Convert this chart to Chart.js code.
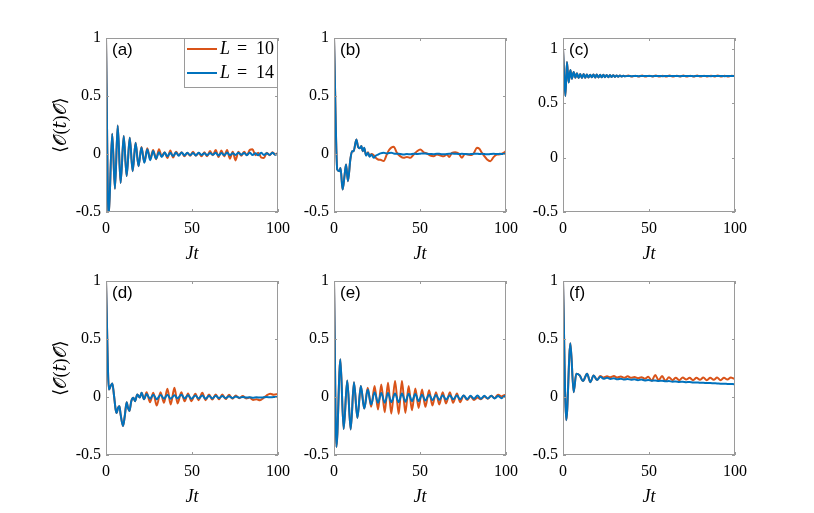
<!DOCTYPE html>
<html>
<head>
<meta charset="utf-8">
<script src="https://cdn.jsdelivr.net/npm/chart.js@4.4.0/dist/chart.umd.min.js"></script>
<style>
  body { margin: 0; background: #fff; }
  #wrap { position: relative; width: 814px; height: 513px; overflow: hidden; }
  #wrap canvas { position: absolute; }
</style>
</head>
<body>
<div id="wrap"></div>
<script>
'use strict';

// ---- data ----
const seriesLabels = ['L = 10', 'L = 14'];
const xTicks = [0, 50, 100];
const yTicks = [-0.5, 0, 0.5, 1];

// (a)
const tA = [0, 1.5, 3.6, 5.2, 6.8, 8.5, 10.3, 12.0, 13.8, 15.5, 17.2, 18.9, 20.6, 22.3, 24.0,
  25.7, 27.4, 29.1, 30.8, 32.4, 34.1, 35.7, 37.4, 39.0, 40.7, 42.3, 44.0, 45.6, 47.3, 48.9,
  50.6, 52.2, 53.9, 55.5, 57.2, 58.8, 60.5, 62.1, 63.8, 65.4, 67.1, 68.7, 70.4, 72.0, 73.7,
  75.3, 77.0, 78.6, 80.3, 81.9, 83.6, 85.2, 86.9, 88.5, 90.2, 91.8, 93.5, 95.1, 96.8, 98.4, 100];
const a14 = [1.0, -0.56, 0.175, -0.30, 0.245, -0.25, 0.155, -0.19, 0.14, -0.148,
  0.096, -0.105, 0.055, -0.076, 0.04, -0.053, 0.025, -0.04, 0.015, -0.025,
  0.012, -0.02, 0.01, -0.018, 0.012, -0.015, 0.014, -0.012, 0.01, -0.01,
  0.008, -0.012, 0.01, -0.008, 0.006, -0.01, 0.008, -0.006, 0.01, -0.012,
  0.008, -0.01, 0.012, -0.01, 0.006, -0.008, 0.01, -0.006, 0.008, -0.01,
  0.012, -0.008, 0.006, -0.01, 0.01, -0.008, 0.006, -0.008, 0.01, -0.006, 0.004];
const a10 = [1.0, -0.56, 0.175, -0.30, 0.245, -0.25, 0.155, -0.19, 0.14, -0.148,
  0.096, -0.105, 0.06, -0.07, 0.05, -0.04, 0.035, -0.045, 0.04, -0.02,
  0.015, -0.035, 0.03, -0.03, 0.02, -0.01, 0.015, -0.02, 0.01, -0.015,
  0.02, -0.015, 0.01, -0.02, 0.015, -0.02, 0.025, -0.01, 0.035, -0.025,
  0.03, -0.02, 0.035, -0.04, 0.02, -0.055, 0.02, -0.015, 0.02, -0.01,
  0.035, 0.04, -0.01, 0.01, -0.03, -0.035, 0.01, -0.01, 0.015, -0.005, 0.01];

// (b)
const tB = [0, 1.9, 3.1, 3.8, 5.0, 6.2, 7.0, 8.1, 9.5, 10.5,
  11.4, 13.0, 14.0, 15.0, 15.9, 16.7, 17.6, 18.6, 19.8, 20.7,
  21.7, 23.1, 24.4, 25.6, 27.0, 28.9, 30.8, 32.0, 33.3, 34.7,
  36.6, 38.6, 40.5, 42.4, 44.4, 46.3, 48.3, 50.2, 52.1, 54.0,
  56.0, 57.9, 59.8, 61.8, 63.7, 65.6, 67.0, 68.6, 70.5, 72.5,
  74.4, 76.0, 78.0, 80.0, 81.2, 83.1, 84.5, 86.0, 87.5, 89.0,
  90.9, 92.9, 94.8, 96.5, 98.0, 100];
const b14 = [1.0, -0.135, -0.148, -0.12, -0.306, -0.177, -0.09, -0.234, -0.047, 0.024,
  0.024, 0.125, 0.062, 0.05, 0.068, 0.024, 0.053, -0.013, 0.01, -0.024,
  -0.004, -0.033, -0.013, -0.005, 0.005, 0.01, 0.005, 0.008, 0.01, 0.005,
  0.002, 0.0, -0.005, 0.0, -0.003, 0.003, 0.0, 0.003, 0.005, 0.002,
  0.0, -0.002, 0.003, 0.0, -0.003, 0.0, 0.002, 0.004, 0.002, 0.0,
  0.002, 0.0, -0.002, 0.0, 0.002, 0.003, 0.0, 0.002, 0.0, -0.003,
  0.0, 0.002, 0.0, 0.002, 0.0, 0.002];
const b10 = [1.0, -0.135, -0.148, -0.12, -0.306, -0.177, -0.09, -0.234, -0.047, 0.024,
  0.024, 0.125, 0.062, 0.05, 0.068, 0.024, 0.05, -0.01, 0.015, -0.02,
  0.0, -0.01, -0.035, -0.047, -0.05, -0.06, 0.0, 0.035, 0.055, 0.062,
  0.01, -0.02, -0.033, -0.025, -0.033, -0.005, 0.024, 0.039, 0.015, 0.005,
  -0.013, -0.019, -0.005, -0.013, -0.02, -0.005, -0.025, 0.01, 0.016, 0.005,
  -0.033, 0.0, -0.005, -0.008, 0.005, 0.053, 0.045, 0.01, -0.02, -0.047,
  -0.062, -0.025, -0.005, -0.003, 0.005, 0.024];

// (c)
const tC = [0, 1.4, 2.3, 3.3, 4.3, 5.2, 6.2, 7.2, 8.1, 9.1,
  10.0, 11.0, 12.0, 12.9, 13.9, 14.8, 15.8, 16.8, 17.7, 18.7,
  19.6, 20.6, 21.6, 22.5, 23.5, 24.4, 25.4, 26.4, 27.3, 28.3,
  29.2, 30.2, 31.2, 32.1, 33.1, 34.0, 35.0, 36.0,
  38, 40, 42, 44, 46, 48, 50, 52, 54, 56,
  58, 60, 62, 64, 66, 68, 70, 72, 74, 76,
  78, 80, 82, 84, 86, 88, 90, 92, 94, 96, 98, 100];
const c14 = [1.0, 0.567, 0.88, 0.69, 0.806, 0.726, 0.787, 0.735, 0.775, 0.732,
  0.77, 0.733, 0.768, 0.735, 0.765, 0.737, 0.763, 0.738, 0.765, 0.736,
  0.764, 0.737, 0.762, 0.738, 0.763, 0.74, 0.76, 0.739, 0.76, 0.741,
  0.758, 0.742, 0.756, 0.744, 0.755, 0.746, 0.753, 0.748,
  0.751, 0.749, 0.75, 0.749, 0.751, 0.75, 0.75, 0.749, 0.75, 0.75,
  0.749, 0.75, 0.75, 0.751, 0.75, 0.749, 0.75, 0.75, 0.75, 0.749,
  0.75, 0.75, 0.751, 0.75, 0.749, 0.75, 0.75, 0.75, 0.749, 0.75, 0.75, 0.75];
const c10 = [1.0, 0.567, 0.88, 0.69, 0.806, 0.726, 0.787, 0.735, 0.775, 0.732,
  0.77, 0.733, 0.768, 0.735, 0.765, 0.737, 0.763, 0.738, 0.765, 0.736,
  0.764, 0.737, 0.762, 0.738, 0.763, 0.74, 0.76, 0.739, 0.76, 0.741,
  0.758, 0.742, 0.756, 0.744, 0.755, 0.746, 0.753, 0.748,
  0.755, 0.745, 0.754, 0.746, 0.755, 0.745, 0.753, 0.747, 0.755, 0.745,
  0.754, 0.746, 0.755, 0.745, 0.754, 0.747, 0.755, 0.745, 0.754, 0.746,
  0.755, 0.745, 0.754, 0.746, 0.753, 0.747, 0.755, 0.746, 0.754, 0.746, 0.754, 0.75];

// (d)
const tD = [0, 1.7, 2.7, 3.7, 4.7, 5.6, 6.2, 7.0, 7.8, 8.5, 9.9, 10.9, 12.0, 12.8, 13.6,
  14.7, 15.9, 16.9, 18.2, 19.6, 20.7, 22.1,
  23.6, 25.6, 27.5, 29.5, 31.7, 33.7, 35.7, 37.6, 39.8, 41.6,
  43.8, 45.7, 47.7, 49.6, 52.0, 53.8, 56.0, 57.9, 59.9, 61.8,
  63.8, 65.7, 67.6, 69.6, 71.5, 73.5, 75.5, 77.5, 79.5, 81.5,
  83.5, 85.5, 87.5, 89.5, 91.5, 93.5, 95.5, 97.5, 100];
const d14 = [1.0, 0.065, 0.094, 0.117, 0.007, -0.108, -0.137, -0.094, -0.08, -0.15, -0.25, -0.166, -0.045, -0.094, -0.12,
  -0.036, -0.007, -0.036, 0.022, -0.005, 0.036, -0.02,
  0.025, -0.015, 0.02, -0.02, 0.018, -0.015, 0.02, -0.015, 0.015, -0.012,
  0.02, -0.012, 0.015, -0.015, 0.012, -0.012, 0.012, -0.015, 0.01, -0.012,
  0.01, -0.01, 0.008, -0.01, 0.006, -0.008, 0.004, -0.006, 0.0, -0.005,
  -0.002, -0.006, -0.002, -0.005, -0.003, 0.0, -0.003, 0.0, 0.0];
const d10 = [1.0, 0.065, 0.094, 0.117, 0.007, -0.108, -0.137, -0.094, -0.08, -0.15, -0.25, -0.166, -0.045, -0.094, -0.12,
  -0.036, -0.007, -0.036, 0.022, -0.005, 0.036, -0.02,
  0.042, -0.045, 0.036, -0.074, 0.042, -0.05, 0.071, -0.065, 0.079, -0.056,
  0.042, -0.036, 0.03, -0.036, 0.027, -0.027, 0.036, -0.027, 0.022, -0.022,
  0.022, -0.02, 0.022, -0.018, 0.019, -0.015, 0.012, -0.01, 0.008, -0.012,
  -0.005, -0.025, -0.02, -0.028, -0.01, 0.015, 0.028, 0.02, 0.025];

// (e)
const tE = [0, 1.4, 3.7, 5.6, 7.7, 9.7, 11.6, 13.6, 15.6, 17.6,
  19.6, 21.6, 23.6, 25.6, 27.5, 29.5, 31.4, 33.3, 35.5, 37.6,
  39.5, 41.5, 43.4, 45.3, 47.3, 49.2, 51.2, 53.1, 55.3, 57.2,
  59.3, 61.2, 63.2, 65.1, 67.4, 69.2, 71.5, 73.3, 75.4, 77.4,
  79.4, 81.4, 83.4, 85.4, 87.4, 89.4, 91.4, 93.4, 95.4, 97.4, 99.4, 100];
const e14 = [1.0, -0.43, 0.325, -0.276, 0.143, -0.28, 0.128, -0.18, 0.094, -0.10,
  0.065, -0.065, 0.042, -0.05, 0.035, -0.05, 0.035, -0.045, 0.03, -0.045,
  0.03, -0.04, 0.028, -0.035, 0.025, -0.035, 0.02, -0.03, 0.02, -0.028,
  0.018, -0.025, 0.015, -0.022, 0.015, -0.02, 0.012, -0.02, 0.012, -0.018,
  0.01, -0.015, 0.012, -0.015, 0.01, -0.012, 0.01, -0.012, 0.008, -0.01, 0.008, 0.0];
const e10 = [1.0, -0.43, 0.325, -0.276, 0.143, -0.28, 0.128, -0.18, 0.094, -0.10,
  0.08, -0.085, 0.094, -0.108, 0.108, -0.131, 0.123, -0.143, 0.137, -0.146,
  0.137, -0.137, 0.094, -0.114, 0.074, -0.094, 0.065, -0.085, 0.059, -0.074,
  0.042, -0.065, 0.042, -0.056, 0.042, -0.05, 0.03, -0.045, 0.013, -0.025,
  0.005, -0.025, -0.005, -0.02, 0.005, -0.015, 0.01, -0.01, 0.02, 0.005, 0.018, 0.01];

// (f)
const tF = [0, 1.9, 4.3, 6.2, 7.7, 9.7, 11.6, 14.0, 15.9, 17.8, 19.8, 21.7, 23.6,
  25.6, 27.6, 29.6, 31.6, 33.6, 35.6, 37.6, 39.6, 41.6, 43.6,
  45.6, 47.6, 49.6, 51.6, 53.6, 55.6, 57.6, 59.6, 61.6, 63.6,
  65.6, 67.6, 69.6, 71.6, 73.6, 75.6, 77.6, 79.6, 81.6, 83.6,
  85.6, 87.6, 89.6, 91.6, 93.6, 95.6, 97.6, 99.6, 100];
const f14 = [1.0, -0.2, 0.463, 0.042, 0.2, 0.186, 0.137, 0.2, 0.128, 0.186, 0.146, 0.175, 0.157,
  0.165, 0.155, 0.162, 0.152, 0.158, 0.15, 0.155, 0.148, 0.152, 0.145,
  0.15, 0.143, 0.146, 0.14, 0.143, 0.138, 0.14, 0.135, 0.137, 0.132,
  0.134, 0.13, 0.131, 0.128, 0.129, 0.126, 0.126, 0.123, 0.123, 0.12,
  0.12, 0.118, 0.117, 0.115, 0.115, 0.113, 0.112, 0.11, 0.11];
const f10 = [1.0, -0.2, 0.463, 0.042, 0.2, 0.186, 0.137, 0.2, 0.128, 0.186, 0.146, 0.18, 0.168,
  0.178, 0.17, 0.18, 0.168, 0.176, 0.165, 0.178, 0.165, 0.172, 0.162,
  0.17, 0.158, 0.175, 0.14, 0.19, 0.145, 0.18, 0.14, 0.17, 0.145,
  0.165, 0.145, 0.168, 0.15, 0.165, 0.145, 0.165, 0.148, 0.168, 0.145,
  0.165, 0.148, 0.168, 0.145, 0.165, 0.15, 0.168, 0.158, 0.165];

// ---- layout ----
const ORANGE = '#D95319';
const BLUE = '#0072BD';
const FRAME = '#9a9a9a';
const SERIF = '"Liberation Serif", "DejaVu Serif", serif';
const SANS = '"Liberation Sans", Arial, sans-serif';

const plotW = 172, plotH = 174;
const colX = [106, 334, 563];
const rowY = [38, 281];
// room round each plot area, wide enough that Chart.js never shrinks the plot
const axisW = 60, axisH = 56, padT = 22, padR = 28;

const panels = [
  { tag: '(a)', t: tA, y10: a10, y14: a14, ymax: 1, col: 0, row: 0, legend: true },
  { tag: '(b)', t: tB, y10: b10, y14: b14, ymax: 1, col: 1, row: 0 },
  { tag: '(c)', t: tC, y10: c10, y14: c14, ymax: 1.1, col: 2, row: 0 },
  { tag: '(d)', t: tD, y10: d10, y14: d14, ymax: 1, col: 0, row: 1 },
  { tag: '(e)', t: tE, y10: e10, y14: e14, ymax: 1, col: 1, row: 1 },
  { tag: '(f)', t: tF, y10: f10, y14: f14, ymax: 1, col: 2, row: 1 }
];

// box with inward ticks on all four sides, panel tag, and the legend
const framePlugin = {
  id: 'frame',
  afterDatasetsDraw(chart, args, opts) {
    const { ctx, chartArea: a, scales: { x, y } } = chart;
    ctx.save();
    ctx.strokeStyle = FRAME;
    ctx.lineWidth = 1;
    ctx.strokeRect(a.left + 0.5, a.top + 0.5, a.right - a.left - 1, a.bottom - a.top - 1);
    ctx.beginPath();
    xTicks.forEach(v => {
      const px = Math.round(x.getPixelForValue(v)) + 0.5;
      ctx.moveTo(px, a.bottom); ctx.lineTo(px, a.bottom - 3);
      ctx.moveTo(px, a.top); ctx.lineTo(px, a.top + 3);
    });
    yTicks.forEach(v => {
      const py = Math.round(y.getPixelForValue(v)) + 0.5;
      ctx.moveTo(a.left, py); ctx.lineTo(a.left + 3, py);
      ctx.moveTo(a.right, py); ctx.lineTo(a.right - 3, py);
    });
    ctx.stroke();

    ctx.fillStyle = '#000';
    ctx.font = '17px ' + SANS;
    ctx.textBaseline = 'middle';
    ctx.textAlign = 'left';
    ctx.fillText(opts.tag, a.left + 6, a.top + 12);

    if (opts.legend) {
      const bx = a.right - 94, by = a.top, bw = 94, bh = 50;
      ctx.fillStyle = '#fff';
      ctx.fillRect(bx, by, bw, bh);
      ctx.strokeStyle = FRAME;
      ctx.lineWidth = 1;
      ctx.strokeRect(bx + 0.5, by + 0.5, bw - 1, bh - 1);
      const rows = [[ORANGE, '10', 11], [BLUE, '14', 35]];
      rows.forEach(([c, n, dy]) => {
        ctx.strokeStyle = c;
        ctx.lineWidth = 2;
        ctx.beginPath();
        ctx.moveTo(bx + 3, by + dy); ctx.lineTo(bx + 33, by + dy);
        ctx.stroke();
        ctx.fillStyle = '#000';
        ctx.font = 'italic 18px ' + SERIF;
        ctx.fillText('L', bx + 36, by + dy);
        ctx.font = '18px ' + SERIF;
        ctx.fillText('=', bx + 53, by + dy);
        ctx.fillText(n, bx + 72, by + dy);
      });
    }
    ctx.restore();
  }
};

function makeChart(p) {
  const cv = document.createElement('canvas');
  const w = axisW + plotW + padR, h = padT + plotH + axisH;
  cv.width = w; cv.height = h;
  cv.style.left = (colX[p.col] - axisW) + 'px';
  cv.style.top = (rowY[p.row] - padT) + 'px';
  cv.style.width = w + 'px'; cv.style.height = h + 'px';
  document.getElementById('wrap').appendChild(cv);

  const pts = ys => p.t.map((t, i) => ({ x: t, y: ys[i] }));

  return new Chart(cv.getContext('2d'), {
    type: 'line',
    data: {
      datasets: [
        { label: seriesLabels[1], data: pts(p.y14), borderColor: BLUE, borderWidth: 2,
          pointRadius: 0, cubicInterpolationMode: 'monotone' },
        { label: seriesLabels[0], data: pts(p.y10), borderColor: ORANGE, borderWidth: 2,
          pointRadius: 0, cubicInterpolationMode: 'monotone' }
      ]
    },
    options: {
      responsive: false,
      animation: false,
      devicePixelRatio: 1,
      layout: { padding: { left: 0, top: padT, right: padR, bottom: 0 } },
      plugins: {
        legend: { display: false },
        tooltip: { enabled: false },
        frame: { tag: p.tag, legend: !!p.legend }
      },
      scales: {
        x: {
          type: 'linear', min: 0, max: 100,
          grid: { display: false, drawTicks: false },
          border: { display: false },
          ticks: { stepSize: 50, color: '#000', padding: 7, maxRotation: 0,
            font: { family: SERIF, size: 16 } },
          title: { display: true, text: 'Jt', color: '#000', padding: { top: 0, bottom: 3 },
            font: { family: SERIF, size: 18, style: 'italic' } },
          afterFit(s) { s.height = axisH; }
        },
        y: {
          type: 'linear', min: -0.5, max: p.ymax,
          grid: { display: false, drawTicks: false },
          border: { display: false },
          ticks: { stepSize: 0.5, includeBounds: false, color: '#000', padding: 5,
            font: { family: SERIF, size: 16 },
            callback: v => String(v) },
          title: { display: p.col === 0, text: '⟨𝒪(𝑡)𝒪⟩', color: '#000',
            padding: { top: 4, bottom: 0 },
            font: { family: '"Liberation Serif", "DejaVu Serif", "DejaVu Sans", serif', size: 18 } },
          afterFit(s) { s.width = axisW; }
        }
      }
    },
    plugins: [framePlugin]
  });
}

panels.forEach(makeChart);
</script>
</body>
</html>
